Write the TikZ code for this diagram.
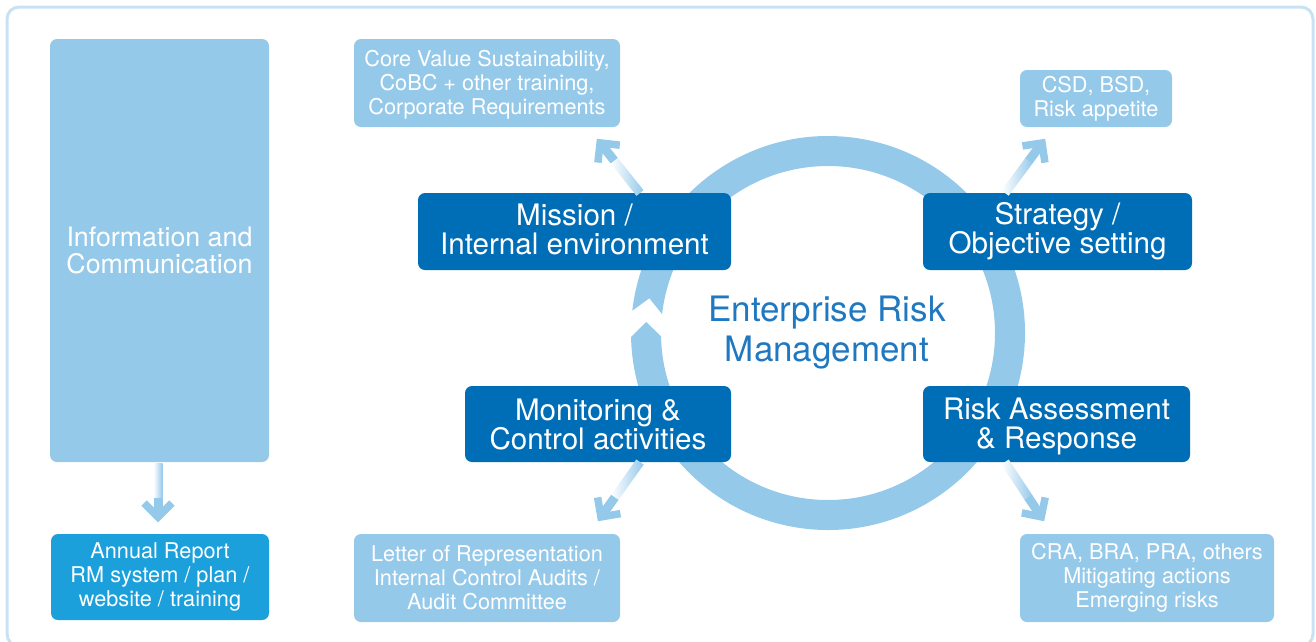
\documentclass[tikz,border=0pt]{standalone}
\usepackage{fontspec}
\setmainfont{TeX Gyre Heros}
\definecolor{lblue}{HTML}{95C9EA}
\definecolor{dblue}{HTML}{006EB6}
\definecolor{mblue}{HTML}{1BA0DB}
\definecolor{frameblue}{HTML}{C8E2F4}
\definecolor{ermblue}{HTML}{1F78C0}
\newcommand\gradarrow[2]{%
  \pgfmathanglebetweenpoints{\pgfpointanchor{#1}{center}}{\pgfpointanchor{#2}{center}}%
  \let\gaang\pgfmathresult
  \pgfpointdiff{\pgfpointanchor{#1}{center}}{\pgfpointanchor{#2}{center}}%
  \pgfgetlastxy{\gadx}{\gady}%
  \pgfmathsetmacro\galen{veclen(\gadx,\gady)}%
  \pgfmathsetmacro\gamid{0.6*\galen}%
  \begin{scope}[shift={(#1)}, rotate=\gaang, x=1pt, y=1pt]
    \shade[left color=white, right color=lblue] (0,-4.5) rectangle (\gamid+0.5,4.5);
    \fill[lblue] (\gamid,-4.5) rectangle (\galen-6,4.5);
    \draw[lblue, line width=7.5pt, line join=miter, line cap=butt]
      (\galen-19,-14) -- (\galen-5,0) -- (\galen-19,14);
  \end{scope}}
\begin{document}
\begin{tikzpicture}[x=1pt,y=-1pt,
  lbox/.style={fill=lblue, rounded corners=7pt, text=white, align=center, inner sep=0pt},
  dbox/.style={fill=dblue, rounded corners=7pt, inner sep=0pt},
  dtext/.style={text=white, align=center, inner sep=0pt, font=\fontsize{29.6}{29}\selectfont},
  stext/.style={text=white, align=center, inner sep=0pt, font=\fontsize{21.7}{24}\selectfont},
  small/.style={font=\fontsize{21.7}{24}\selectfont}]
\useasboundingbox (0,0) rectangle (1316,641);
\draw[frameblue, line width=3pt, rounded corners=12pt] (7,7) rectangle (1313,646);
% ring
\fill[lblue] ([shift={(828,333)}]186.5:197) arc[start angle=186.5, end angle=538.8, radius=197]
  -- ([shift={(828,333)}]543.5:182) -- ([shift={(828,333)}]538.8:167)
  arc[start angle=538.8, end angle=186.5, radius=167]
  -- ([shift={(828,333)}]191:182) -- cycle;
% boxes
\node[lbox, minimum width=219pt, minimum height=423pt, font=\fontsize{26.8}{27}\selectfont]
  (info) at (159.5,250.5) {Information and\\Communication};
\node[lbox, minimum width=266pt, minimum height=88pt] (core) at (487,83) {};
\node[stext] (coret) at ([yshift=-2pt]core.center)
  {Core Value Sustainability,\\CoBC + other training,\\Corporate Requirements};
\node[lbox, small, minimum width=152pt, minimum height=57pt]
  (csd) at (1096,98.5) {CSD, BSD,\\Risk appetite};
\node[dbox, minimum width=313pt, minimum height=77pt] (mission) at (574.5,231.5) {};
\node[dtext] (missiont) at ([yshift=2pt]mission.center) {Mission /\\Internal environment};
\node[dbox, minimum width=269pt, minimum height=77pt] (strategy) at (1057.5,231.5) {};
\node[dtext] (strategyt) at ([yshift=0pt]strategy.center) {Strategy /\\Objective setting};
\node[text=ermblue, align=center, font=\fontsize{35}{40}\selectfont]
  (erm) at (827,333) {Enterprise Risk\\Management};
\node[dbox, minimum width=266pt, minimum height=76pt] (monitor) at (598,424) {};
\node[dtext] (monitort) at ([yshift=0pt]monitor.center) {Monitoring \&\\Control activities};
\node[dbox, minimum width=267pt, minimum height=76pt] (risk) at (1056.5,424) {};
\node[dtext] (riskt) at ([yshift=-2pt]risk.center) {Risk Assessment\\\& Response};
\node[lbox, small, minimum width=266pt, minimum height=88pt]
  (letter) at (487,578) {Letter of Representation\\Internal Control Audits /\\Audit Committee};
\node[lbox, small, minimum width=254pt, minimum height=88pt]
  (cra) at (1147,578) {CRA, BRA, PRA, others\\Mitigating actions\\Emerging risks};
\node[lbox, small, fill=mblue, minimum width=218pt, minimum height=86pt]
  (annual) at (160,577) {Annual Report\\RM system / plan /\\website / training};
% arrows
\coordinate (a1s) at (640,193);  \coordinate (a1e) at (597,139);
\coordinate (a2s) at (1005,193); \coordinate (a2e) at (1045,139);
\coordinate (a3s) at (1005,462); \coordinate (a3e) at (1044,521);
\coordinate (a4s) at (640,462);  \coordinate (a4e) at (598,521);
\coordinate (a5s) at (158,463);  \coordinate (a5e) at (158,522);
\gradarrow{a1s}{a1e}
\gradarrow{a2s}{a2e}
\gradarrow{a3s}{a3e}
\gradarrow{a4s}{a4e}
\gradarrow{a5s}{a5e}
\end{tikzpicture}
\end{document}
